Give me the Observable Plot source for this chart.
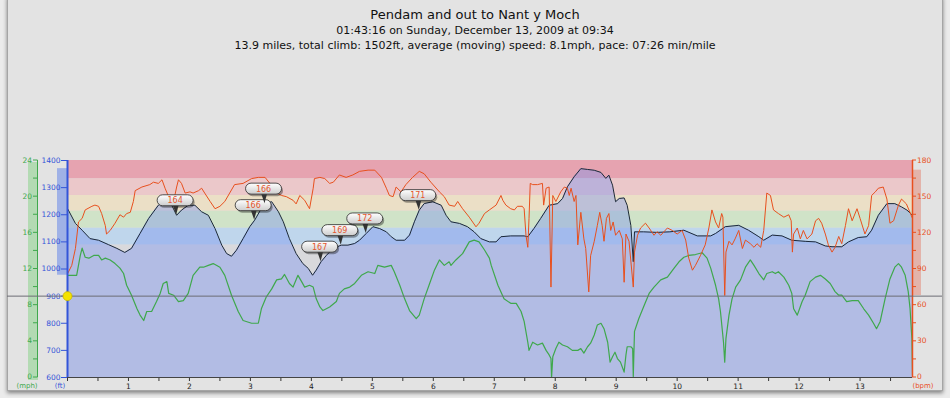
<!DOCTYPE html>
<html><head><meta charset="utf-8">
<script src="https://cdn.jsdelivr.net/npm/d3@7"></script>
<script src="https://cdn.jsdelivr.net/npm/@observablehq/plot@0.6"></script>
<style>
html,body{margin:0;padding:0;background:#ebebeb;}
#wrap{position:relative;width:950px;height:398px;overflow:hidden;}
#panel{position:absolute;left:7px;top:-4px;width:934px;height:393px;background:#e3e3e3;border:1px solid #a5a5a5;box-shadow:0 2px 4px rgba(0,0,0,0.45);}
#head{position:relative;height:58px;text-align:center;font-family:"DejaVu Sans",sans-serif;color:#111;}
#t1{font-size:13px;line-height:16px;padding-top:7px;}
#t2,#t3{font-size:11px;line-height:15px;}
#chart{position:relative;}
</style></head>
<body>
<div id="wrap">
  <div id="panel"></div>
  <div id="head">
    <div id="t1">Pendam and out to Nant y Moch</div>
    <div id="t2">01:43:16 on Sunday, December 13, 2009 at 09:34</div>
    <div id="t3">13.9 miles, total climb: 1502ft, average (moving) speed: 8.1mph, pace: 07:26 min/mile</div>
  </div>
  <div id="chart"></div>
</div>
<script>
// ---------- data ----------
const maxMile = 13.86;
const elevMiles = [0,0.13,0.24,0.37,0.51,0.67,0.81,0.94,1.05,1.19,1.33,1.49,1.60,1.71,1.79,1.87,1.98,2.09,2.20,2.31,2.42,2.53,2.61,2.69,2.77,2.88,2.99,3.07,3.18,3.24,3.35,3.46,3.54,3.64,3.75,3.86,3.95,4.02,4.08,4.16,4.25,4.36,4.49,4.60,4.71,4.79,4.90,5.01,5.12,5.23,5.31,5.39,5.53,5.61,5.69,5.77,5.85,5.99,6.13,6.21,6.29,6.43,6.56,6.67,6.78,6.92,7.03,7.11,7.27,7.49,7.55,7.65,7.76,7.90,8.04,8.12,8.20,8.31,8.42,8.53,8.64,8.75,8.83,8.88,8.94,8.99,9.05,9.13,9.18,9.24,9.28,9.30,9.45,9.67,9.88,10.11,10.33,10.55,10.63,10.79,11.01,11.17,11.34,11.42,11.56,11.72,11.88,12.10,12.27,12.43,12.54,12.70,12.81,12.97,13.11,13.19,13.30,13.44,13.57,13.68,13.77,13.86];
const elevFeet = [1223,1168,1143,1112,1106,1090,1076,1061,1076,1131,1186,1235,1248,1235,1198,1217,1235,1235,1211,1198,1149,1088,1057,1047,1069,1112,1156,1180,1223,1241,1248,1211,1174,1112,1057,1020,1002,977,996,1027,1051,1076,1088,1088,1094,1106,1131,1156,1149,1137,1119,1106,1106,1125,1174,1217,1241,1248,1235,1198,1174,1168,1156,1137,1112,1100,1100,1119,1122,1122,1119,1149,1186,1235,1241,1260,1303,1340,1370,1367,1364,1356,1334,1346,1309,1248,1260,1262,1235,1161,1027,1137,1137,1135,1137,1143,1122,1122,1131,1156,1161,1143,1119,1106,1125,1122,1106,1102,1100,1085,1082,1082,1100,1116,1119,1143,1198,1241,1241,1229,1217,1198];

const hrMiles = [0,0.07,0.13,0.18,0.24,0.29,0.40,0.45,0.51,0.56,0.62,0.64,0.70,0.78,0.86,0.92,0.97,1.03,1.08,1.11,1.22,1.35,1.41,1.49,1.55,1.60,1.65,1.74,1.79,1.82,1.87,1.93,2.01,2.06,2.15,2.20,2.25,2.34,2.42,2.50,2.58,2.66,2.74,2.88,3.02,3.13,3.24,3.32,3.40,3.51,3.59,3.70,3.75,3.81,3.89,3.97,4.03,4.05,4.14,4.22,4.30,4.36,4.46,4.57,4.68,4.79,4.93,5.04,5.15,5.23,5.28,5.34,5.39,5.47,5.55,5.66,5.77,5.85,5.96,6.10,6.18,6.26,6.35,6.40,6.48,6.59,6.70,6.75,6.84,6.92,7.03,7.11,7.14,7.19,7.27,7.33,7.38,7.46,7.49,7.52,7.55,7.57,7.59,7.63,7.71,7.79,7.81,7.85,7.90,7.93,7.96,8.01,8.09,8.15,8.20,8.23,8.26,8.31,8.34,8.37,8.42,8.47,8.50,8.55,8.58,8.64,8.69,8.73,8.77,8.80,8.84,8.88,8.91,8.95,8.99,9.05,9.10,9.13,9.16,9.21,9.28,9.30,9.35,9.40,9.48,9.54,9.62,9.67,9.73,9.84,9.92,10.00,10.08,10.14,10.19,10.25,10.30,10.38,10.46,10.52,10.57,10.63,10.68,10.73,10.75,10.78,10.80,10.85,10.90,10.95,11.01,11.07,11.12,11.20,11.26,11.31,11.37,11.42,11.47,11.53,11.58,11.66,11.75,11.83,11.87,11.89,11.91,11.97,12.02,12.07,12.13,12.21,12.27,12.32,12.37,12.43,12.48,12.54,12.59,12.65,12.70,12.76,12.81,12.87,12.95,13.00,13.08,13.14,13.19,13.25,13.30,13.38,13.44,13.49,13.55,13.63,13.68,13.76,13.86];
const hrBpm = [86,93,107,129,132,139,142,143,142,136,126,119,122,128,135,133,136,137,146,155,158,160,162,161,164,157,151,146,158,164,161,153,154,153,155,157,153,146,140,142,146,153,160,161,165,166,166,161,154,151,150,147,144,151,147,140,157,165,166,165,161,162,168,166,168,171,172,172,166,157,151,150,158,154,160,166,171,169,162,154,150,143,142,146,140,133,125,128,136,139,143,151,147,143,140,139,142,142,140,118,108,132,161,160,160,161,143,157,158,75,151,146,154,158,157,151,157,146,151,110,137,115,107,71,101,113,126,137,126,113,132,136,122,129,118,122,115,79,119,113,75,104,118,124,128,124,118,121,118,124,122,119,122,114,99,89,93,101,110,124,139,129,124,136,133,68,104,113,110,115,122,107,114,111,108,111,108,122,153,151,139,136,133,135,130,104,119,124,115,122,115,119,130,132,128,119,110,104,108,117,111,126,140,130,140,132,119,126,151,154,157,158,148,128,130,143,148,144,132];

const speedMiles = [0,0.15,0.21,0.24,0.29,0.35,0.43,0.51,0.56,0.62,0.70,0.78,0.86,0.92,0.97,1.05,1.14,1.19,1.25,1.30,1.38,1.46,1.52,1.57,1.63,1.66,1.74,1.82,1.90,1.98,2.06,2.17,2.23,2.31,2.39,2.50,2.58,2.69,2.80,2.88,3.02,3.13,3.18,3.26,3.35,3.43,3.51,3.56,3.64,3.70,3.78,3.84,3.89,3.97,4.03,4.08,4.14,4.19,4.30,4.41,4.46,4.54,4.63,4.71,4.82,4.93,5.04,5.09,5.20,5.31,5.36,5.45,5.53,5.61,5.72,5.77,5.85,5.94,6.02,6.10,6.18,6.26,6.29,6.37,6.48,6.59,6.67,6.75,6.84,6.92,6.95,7.06,7.16,7.27,7.36,7.44,7.49,7.55,7.57,7.63,7.71,7.79,7.85,7.90,7.93,7.94,7.96,8.01,8.06,8.12,8.20,8.28,8.37,8.42,8.47,8.53,8.58,8.64,8.69,8.75,8.80,8.86,8.90,8.94,8.98,9.02,9.07,9.13,9.16,9.18,9.24,9.27,9.28,9.30,9.37,9.46,9.54,9.62,9.73,9.84,9.95,10.03,10.11,10.19,10.30,10.41,10.49,10.55,10.63,10.68,10.71,10.76,10.78,10.80,10.85,10.90,10.96,11.04,11.12,11.20,11.26,11.34,11.42,11.47,11.56,11.61,11.66,11.75,11.83,11.88,11.91,11.97,12.05,12.10,12.18,12.27,12.35,12.43,12.51,12.59,12.65,12.70,12.78,12.87,12.97,13.06,13.14,13.22,13.27,13.33,13.41,13.49,13.57,13.63,13.68,13.74,13.79,13.82,13.85,13.86];
const speedMph = [11.3,11.3,13.5,14.3,13.3,13.2,13.5,13.5,13.0,13.2,13.0,12.6,12.1,11.5,10.2,9.1,7.6,6.9,6.3,7.3,7.3,8.4,9.3,10.4,10.6,9.3,9.1,8.4,8.5,9.3,11.3,12.2,12.2,12.4,12.6,12.2,11.3,9.1,7.3,6.3,6.0,6.0,7.6,8.9,9.8,10.8,10.9,11.4,10.4,10.0,11.3,10.6,10.0,10.2,10.0,8.7,7.8,7.4,7.8,8.4,9.3,9.8,10.0,10.4,11.3,11.7,11.5,12.4,12.2,12.4,11.7,10.2,8.7,7.4,6.5,6.9,8.7,10.4,11.9,13.0,12.4,12.8,12.4,13.0,13.7,15.0,15.2,15.0,14.1,13.2,12.4,10.2,8.7,8.2,8.2,7.3,6.2,3.9,3.0,3.9,3.6,3.8,3.0,2.5,2.1,0,2.3,3.2,3.9,3.6,3.4,3.0,3.0,3.2,2.7,3.4,3.8,4.7,5.8,6.0,5.4,3.9,1.7,2.3,2.8,2.1,1.7,0.6,2.5,3.4,3.4,3.2,0.1,5.1,6.5,8.0,9.3,10.0,10.8,11.1,12.1,12.8,13.3,13.5,13.6,13.8,13.2,12.1,10.2,8.7,7.3,3.9,1.7,4.3,6.9,8.7,10.0,10.8,12.2,13.0,12.4,11.5,10.8,11.5,11.7,11.5,11.7,11.1,10.2,9.3,7.6,6.9,8.4,9.1,10.6,11.1,11.3,10.9,10.4,9.5,9.1,9.1,8.4,8.5,8.5,7.6,6.9,6.0,5.4,6.2,8.7,10.9,12.2,12.6,12.2,11.3,9.5,7.6,4.3,0.3];

// heart-rate zones (bpm)
const zoneLow  = [110, 124, 138, 151, 165];
const zoneHigh = [124, 138, 151, 165, 180];
const zoneColors = ["#bfd6ec", "#d0e3c8", "#ebdfc6", "#ebc8ca", "#e6a3b0"];

// callouts: mile and heart rate shown
const bubbleMiles = [1.79, 3.07, 3.24, 4.16, 4.49, 4.90, 5.77];
const bubbleBpm = [164, 166, 166, 167, 169, 172, 171];

// axes
const elevTicks = d3.range(600, 1401, 100);
const speedTicks = d3.range(0, 25, 2);
const hrTicks = d3.range(0, 181, 15);
const mileTicks = d3.range(0, 13.6, 0.5);
const cursorMile = 0, cursorFeet = 900;

// ---------- scale mapping of secondary axes onto elevation axis ----------
const E0 = 600, E1 = 1400, SPD_MAX = 24, HR_MAX = 180;
const mphToFt = v => E0 + v * (E1 - E0) / SPD_MAX;
const bpmToFt = v => E0 + v * (E1 - E0) / HR_MAX;

const elev = elevMiles.map((m, i) => ({mile: m, ft: elevFeet[i]}));
const hr = hrMiles.map((m, i) => ({mile: m, bpm: hrBpm[i]}));
const spd = speedMiles.map((m, i) => ({mile: m, mph: speedMph[i]}));
const zones = zoneLow.map((lo, i) => ({lo, hi: zoneHigh[i], color: zoneColors[i]}));

function elevAt(m) {
  const i = d3.bisectLeft(elevMiles, m);
  if (i <= 0) return elevFeet[0];
  if (i >= elevMiles.length) return elevFeet[elevFeet.length - 1];
  const t = (m - elevMiles[i - 1]) / (elevMiles[i] - elevMiles[i - 1]);
  return elevFeet[i - 1] + t * (elevFeet[i] - elevFeet[i - 1]);
}

const GREEN = "#3fa84c", BLUE = "#3355d8", RED = "#e8501e";

function sideAxes(index, scales, values, dims) {
  const g = d3.create("svg:g");
  const y = scales.y;
  const L = dims.marginLeft, R = dims.width - dims.marginRight, B = dims.height - dims.marginBottom;
  const yS = v => y(mphToFt(v)), yH = v => y(bpmToFt(v));
  // green band (speed)
  g.append("rect").attr("x", L - 39).attr("width", 10).attr("y", yS(SPD_MAX) + 2).attr("height", yS(0) - yS(SPD_MAX) + 1).attr("fill", "#b3dab3");
  // blue band (elevation extent)
  const [eMin, eMax] = d3.extent(elevFeet);
  g.append("rect").attr("x", L - 10).attr("width", 10).attr("y", y(eMax)).attr("height", y(eMin) - y(eMax)).attr("fill", "#9fb1e6");
  // red band (hr extent)
  const [hMin, hMax] = d3.extent(hrBpm);
  g.append("rect").attr("x", R).attr("width", 9).attr("y", yH(hMax)).attr("height", yH(hMin) - yH(hMax)).attr("fill", "#e3b3aa");
  // speed axis
  g.append("line").attr("x1", L - 29.5).attr("x2", L - 29.5).attr("y1", yS(0)).attr("y2", yS(SPD_MAX)).attr("stroke", GREEN).attr("stroke-width", 1);
  for (const t of speedTicks) {
    g.append("line").attr("x1", L - 34).attr("x2", L - 29.5).attr("y1", yS(t)).attr("y2", yS(t)).attr("stroke", GREEN);
    if (t % 4 === 0) g.append("text").attr("x", L - 35).attr("y", yS(t)).attr("dy", t === 0 ? "0.2em" : "0.35em").attr("text-anchor", "end").attr("fill", GREEN).text(t);
  }
  // hr axis
  for (const t of hrTicks) {
    g.append("line").attr("x1", R).attr("x2", R + 4).attr("y1", yH(t)).attr("y2", yH(t)).attr("stroke", RED);
    if (t % 30 === 0) g.append("text").attr("x", R + 5).attr("y", yH(t)).attr("dy", t === 0 ? "0.2em" : "0.35em").attr("text-anchor", "start").attr("fill", RED).text(t);
  }
  // units
  g.append("text").attr("x", L - 40).attr("y", B + 11).attr("text-anchor", "middle").attr("fill", GREEN).attr("font-size", 7).text("(mph)");
  g.append("text").attr("x", L - 7).attr("y", B + 11).attr("text-anchor", "middle").attr("fill", BLUE).attr("font-size", 7).text("(ft)");
  g.append("text").attr("x", R + 11).attr("y", B + 11).attr("text-anchor", "middle").attr("fill", RED).attr("font-size", 7).text("(bpm)");
  return g.node();
}

function bubbles(index, scales) {
  const g = d3.create("svg:g");
  const defs = g.append("defs");
  const grad = defs.append("linearGradient").attr("id", "bubbleGrad").attr("x1", 0).attr("y1", 0).attr("x2", 0).attr("y2", 1);
  grad.append("stop").attr("offset", "0%").attr("stop-color", "#ffffff");
  grad.append("stop").attr("offset", "100%").attr("stop-color", "#cdcdcd");
  const w = 36, h = 11;
  bubbleMiles.forEach((m, i) => {
    const tx = scales.x(m), ty = scales.y(elevAt(m));
    const cx = tx - 1, cy = ty - 14.5;
    g.append("rect").attr("x", cx - w / 2 + 1.5).attr("y", cy - h / 2 + 2).attr("width", w).attr("height", h).attr("rx", h / 2).attr("fill", "rgba(0,0,0,0.35)");
    g.append("path").attr("d", `M${cx - 3},${cy + 3}L${tx},${ty}L${cx + 4},${cy + 3}Z`).attr("fill", "#333");
    g.append("rect").attr("x", cx - w / 2).attr("y", cy - h / 2).attr("width", w).attr("height", h).attr("rx", h / 2)
      .attr("fill", "url(#bubbleGrad)").attr("stroke", "#2a2a2a").attr("stroke-width", 0.8);
    g.append("text").attr("x", cx).attr("y", cy).attr("dy", "0.36em").attr("text-anchor", "middle")
      .attr("fill", "#e4572e").attr("font-size", 8).text(bubbleBpm[i]);
  });
  return g.node();
}

const chart = Plot.plot({
  width: 950, height: 340,
  marginTop: 102, marginBottom: 21, marginLeft: 67, marginRight: 38,
  x: {domain: [0, maxMile]},
  y: {domain: [E0, E1]},
  style: {background: "transparent", fontFamily: "'DejaVu Sans', sans-serif", fontSize: "7.5px", overflow: "visible", color: "#222"},
  marks: [
    Plot.frame({fill: "#d9d9dc", stroke: null}),
    Plot.rect(zones, {x1: 0, x2: maxMile, y1: d => bpmToFt(d.lo), y2: d => bpmToFt(d.hi), fill: "color"}),
    Plot.areaY(elev, {x: "mile", y1: E0, y2: "ft", fill: "#7892f0", fillOpacity: 0.4}),
    Plot.line(elev, {x: "mile", y: "ft", stroke: "#1b2838", strokeWidth: 1}),
    Plot.line(spd, {x: "mile", y: d => mphToFt(d.mph), stroke: GREEN, strokeWidth: 1.2, clip: true}),
    Plot.line(hr, {x: "mile", y: d => bpmToFt(d.bpm), stroke: RED, strokeWidth: 1, clip: true}),
    sideAxes,
    Plot.axisY(elevTicks, {tickSize: 6, tickPadding: 1, label: null, stroke: BLUE, fill: BLUE,
      tickFormat: d => String(d), dy: 0}),
    Plot.axisX(mileTicks, {tickSize: 4, tickPadding: 2, label: null, stroke: "#333", fill: "#222",
      tickFormat: d => (d > 0 && d % 1 === 0) ? String(d) : ""}),
    Plot.ruleY([E0], {stroke: "#444", strokeWidth: 1.2}),
    Plot.ruleX([maxMile], {stroke: RED, strokeWidth: 1.5}),
    Plot.ruleX([0], {stroke: BLUE, strokeWidth: 2}),
    bubbles,
    Plot.ruleY([cursorFeet], {stroke: "#6d6d75", strokeWidth: 1, insetLeft: -60, insetRight: -30}),
    Plot.dot([cursorMile], {x: d => d, y: () => cursorFeet, r: 4.5, fill: "#f4e200", stroke: "#c9b800", strokeWidth: 0.8})
  ]
});
document.getElementById("chart").appendChild(chart);
</script>
</body></html>
